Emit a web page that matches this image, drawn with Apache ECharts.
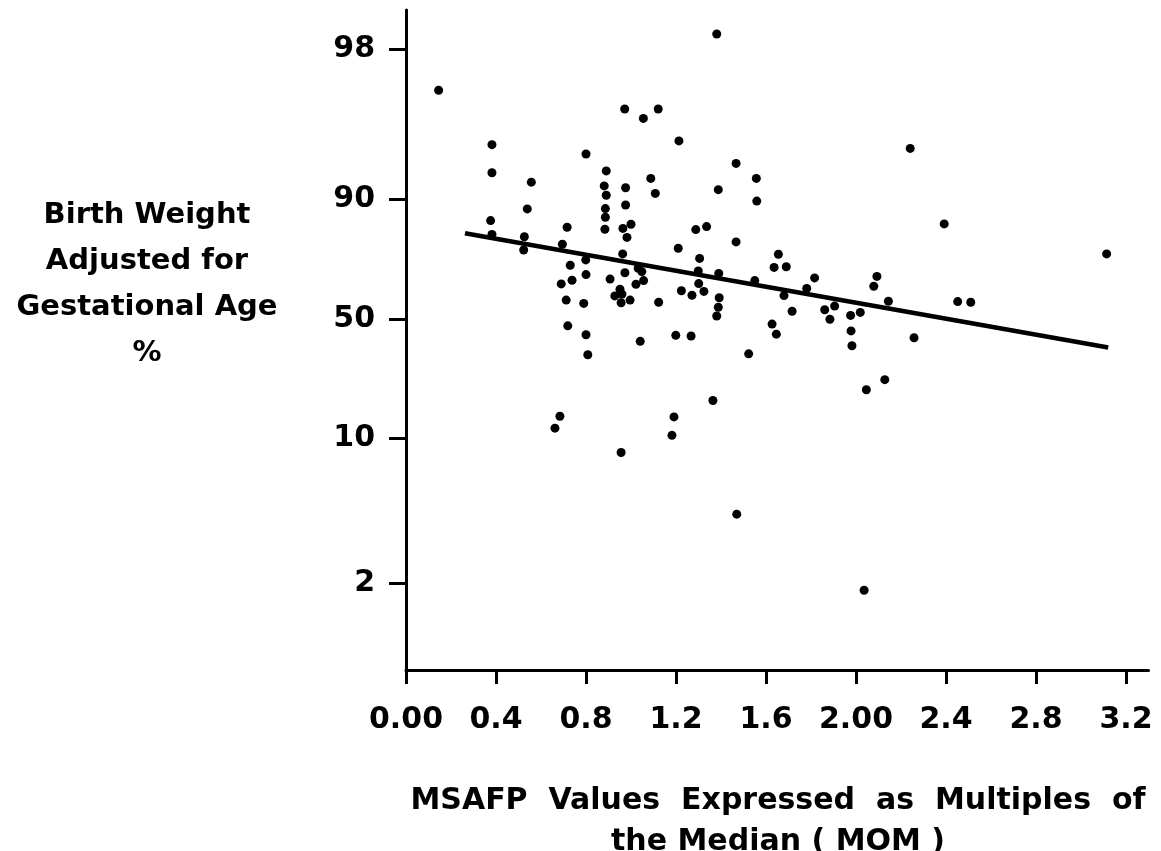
<!DOCTYPE html>
<html><head><meta charset="utf-8">
<script src="https://cdn.jsdelivr.net/npm/echarts@6/dist/echarts.min.js"></script>
<style>html,body{margin:0;padding:0;background:#fff}#c{width:1161px;height:851px}</style>
</head><body><div id="c"></div>
<script>
// MSAFP (multiples of the median) for each pregnancy
const msafp = [
  0.145,0.972,1.055,1.121,0.382,0.800,0.382,0.890,0.557,1.088,
  0.881,0.976,1.108,0.890,0.976,0.539,0.886,0.886,0.376,0.716,
  0.884,1.000,0.964,0.982,0.382,0.526,0.523,0.695,0.799,0.963,
  0.730,0.800,0.738,0.690,0.907,0.973,1.032,1.048,1.056,1.022,
  0.951,0.928,0.960,0.996,0.956,0.712,0.790,1.123,0.719,0.800,
  1.041,0.808,1.381,1.213,1.467,1.557,1.388,1.559,1.288,1.336,
  1.210,1.467,1.305,1.299,1.390,1.301,1.224,1.271,1.324,1.392,
  1.388,1.381,1.199,1.267,1.523,1.655,1.636,1.690,1.550,1.680,
  1.816,1.781,1.716,1.627,1.646,1.861,1.905,1.884,1.976,2.019,
  1.978,1.982,2.093,2.079,2.144,2.128,2.046,2.392,3.114,2.452,
  2.510,2.258,2.241,0.684,0.662,0.956,1.191,1.182,1.364,1.470,
  2.036
];
// Birth weight adjusted for gestational age (percentile)
const birthWeightPct = [
  95.8,94.8,94.3,94.8,92.9,92.4,91.4,91.5,90.9,91.1,
  90.7,90.6,90.3,90.2,88.0,86.7,86.8,83.9,82.8,80.6,
  79.9,81.6,80.2,77.2,78.2,77.4,73.0,74.9,69.7,71.7,
  67.9,64.8,62.9,61.7,63.3,65.4,66.9,65.8,62.8,61.6,
  59.9,57.7,58.3,56.3,55.4,56.3,55.2,55.6,47.7,44.7,
  42.5,38.0,98.8,93.1,91.9,91.1,90.5,89.3,79.8,80.8,
  73.6,75.7,70.2,66.0,65.2,61.8,59.4,57.9,59.2,57.1,
  53.9,51.0,44.5,44.3,38.3,71.6,67.2,67.4,62.8,57.8,
  63.7,60.2,52.6,48.3,44.9,53.1,54.3,49.9,51.2,52.2,
  46.0,41.0,64.2,60.9,55.9,29.6,26.2,81.7,71.7,55.8,
  55.6,43.7,92.7,17.3,13.3,9.2,17.1,10.9,22.6,5.8,
  1.6
];
// Fitted regression line end points
const fitMsafp = [0.262, 3.121];
const fitPct = [78.6, 40.4];

// Axis ticks
const xTickValues = [0, 0.4, 0.8, 1.2, 1.6, 2.0, 2.4, 2.8, 3.2];
const xTickLabels = ['0.00', '0.4', '0.8', '1.2', '1.6', '2.00', '2.4', '2.8', '3.2'];
const yTickPct = [2, 10, 50, 90, 98];
const yTickLabels = ['2', '10', '50', '90', '98'];
// percentile-paper scale: where each tick percentile sits on the (linear) axis
const yTickScale = [-2.64, -1.19, 0, 1.20, 2.70];

const yTitle = 'Birth Weight\nAdjusted for\nGestational Age\n%';
const xTitle = 'MSAFP  Values  Expressed  as  Multiples  of\nthe Median ( MOM )';

function pctToScale(p) {
  const n = yTickPct.length;
  let i = 0;
  if (p <= yTickPct[0]) i = 0;
  else if (p >= yTickPct[n - 1]) i = n - 2;
  else { while (!(p >= yTickPct[i] && p <= yTickPct[i + 1])) i++; }
  const t = (p - yTickPct[i]) / (yTickPct[i + 1] - yTickPct[i]);
  return yTickScale[i] + t * (yTickScale[i + 1] - yTickScale[i]);
}

const FONT = '"DejaVu Sans"';
const points = msafp.map((x, i) => [x, pctToScale(birthWeightPct[i])]);
const fitLine = fitMsafp.map((x, i) => [x, pctToScale(fitPct[i])]);

const chart = echarts.init(document.getElementById('c'), null, { renderer: 'canvas' });
chart.setOption({
  backgroundColor: '#ffffff',
  animation: false,
  grid: { left: 406, top: 10, width: 742.5, height: 660 },
  xAxis: {
    type: 'value', min: 0, max: 3.3,
    axisLine: { show: true, onZero: false, lineStyle: { color: '#000', width: 3 } },
    axisTick: { show: true, customValues: xTickValues, length: 14, lineStyle: { color: '#000', width: 3 } },
    axisLabel: {
      customValues: xTickValues, margin: 35, color: '#000', fontFamily: 'DejaVu Sans', fontWeight: 'bold', fontSize: 30,
      formatter: v => { const i = xTickValues.findIndex(t => Math.abs(t - v) < 1e-6); return i < 0 ? '' : xTickLabels[i]; }
    },
    splitLine: { show: false }
  },
  yAxis: {
    type: 'value', min: -3.51, max: 3.09,
    axisLine: { show: true, onZero: false, lineStyle: { color: '#000', width: 3 } },
    axisTick: { show: true, customValues: yTickScale, length: 17, lineStyle: { color: '#000', width: 3 } },
    axisLabel: {
      customValues: yTickScale, margin: 31, color: '#000', fontFamily: 'DejaVu Sans', fontWeight: 'bold', fontSize: 30,
      formatter: v => { const i = yTickScale.findIndex(t => Math.abs(t - v) < 1e-6); return i < 0 ? '' : yTickLabels[i]; }
    },
    splitLine: { show: false }
  },
  graphic: [
    { type: 'text', x: 147, y: 192, style: { text: yTitle, align: 'center', verticalAlign: 'top', fill: '#000', font: 'bold 29px ' + FONT, lineHeight: 46 } },
    { type: 'text', x: 778, y: 781, style: { text: xTitle, align: 'center', verticalAlign: 'top', fill: '#000', font: 'bold 30px ' + FONT, lineHeight: 41 } }
  ],
  series: [
    { type: 'scatter', data: points, symbol: 'circle', symbolSize: 9, itemStyle: { color: '#000', opacity: 1 } },
    { type: 'line', data: fitLine, symbol: 'none', lineStyle: { color: '#000', width: 4.5 } }
  ]
});
</script>
</body></html>
